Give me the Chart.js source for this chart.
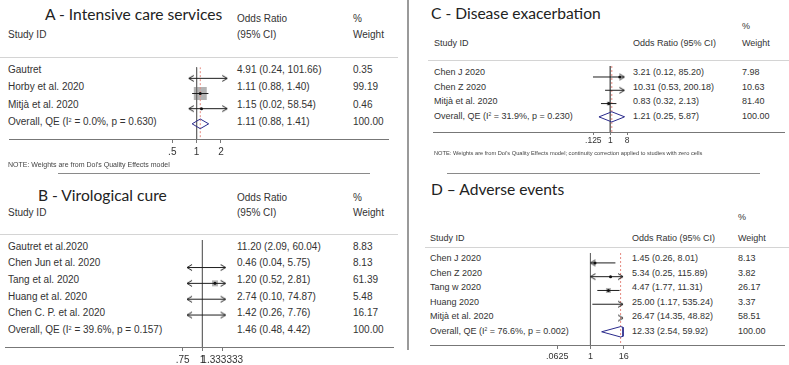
<!DOCTYPE html>
<html>
<head>
<meta charset="utf-8">
<script src="https://cdn.jsdelivr.net/npm/chart.js@4.4.1/dist/chart.umd.min.js"></script>
<style>
  body { margin: 0; background: #fff; width: 789px; height: 365px; overflow: hidden; position: relative;
         font-family: "Liberation Sans", Arial, sans-serif; color: #333; }
  .t { position: absolute; white-space: nowrap; line-height: 1; transform: translateY(-50%); }
  .ttl { font-family: Lato, sans-serif; color: #222; font-size: 15.6px; }
  .rule { position: absolute; height: 1px; }
  canvas { position: absolute; }
  sup { font-size: 55%; vertical-align: 0; position: relative; top: -0.55em; }
</style>
</head>
<body>

<div class="t ttl" style="left:45px;top:15px">A - Intensive care services</div>
<div class="t ttl" style="left:38px;top:196px">B - Virological cure</div>
<div class="t ttl" style="left:431px;top:14px">C - Disease exacerbation</div>
<div class="t ttl" style="left:431px;top:190px">D &ndash; Adverse events</div>

<script>
// A - Intensive care services
const studiesA = ['Gautret', 'Horby et al. 2020', 'Mitjà et al. 2020'];
const orA = [4.91, 1.11, 1.15];
const loA = [0.24, 0.88, 0.02];
const hiA = [101.66, 1.40, 58.54];
const weightA = [0.35, 99.19, 0.46];
const overallA = [1.11, 0.88, 1.41];
const i2A = 0.0, pA = 0.630;
const ticksA = [0.5, 1, 2];
const tickLabelsA = ['.5', '1', '2'];
const clipA = [0.8, 2.39];

// B - Virological cure
const studiesB = ['Gautret et al.2020', 'Chen Jun et al. 2020', 'Tang et al. 2020', 'Huang et al. 2020', 'Chen C. P. et al. 2020'];
const orB = [11.20, 0.46, 1.20, 2.74, 1.42];
const loB = [2.09, 0.04, 0.52, 0.10, 0.26];
const hiB = [60.04, 5.75, 2.81, 74.87, 7.76];
const weightB = [8.83, 8.13, 61.39, 5.48, 16.17];
const overallB = [1.46, 0.48, 4.42];
const i2B = 39.6, pB = 0.157;
const ticksB = [0.75, 1, 1.333333];
const tickLabelsB = ['.75', '1', '1.333333'];
const clipB = [0.8, 1.40];

// C - Disease exacerbation
const studiesC = ['Chen J 2020', 'Chen Z 2020', 'Mitjà et al. 2020'];
const orC = [3.21, 10.31, 0.83];
const loC = [0.12, 0.53, 0.32];
const hiC = [85.20, 200.18, 2.13];
const weightC = [7.98, 10.63, 81.40];
const overallC = [1.21, 0.25, 5.87];
const i2C = 31.9, pC = 0.230;
const ticksC = [0.125, 1, 8];
const tickLabelsC = ['.125', '1', '8'];
const clipC = [0.11, 5.66];

// D - Adverse events
const studiesD = ['Chen J 2020', 'Chen Z 2020', 'Tang w 2020', 'Huang 2020', 'Mitjà et al. 2020'];
const orD = [1.45, 5.34, 4.47, 25.00, 26.47];
const loD = [0.26, 0.25, 1.77, 1.17, 14.35];
const hiD = [8.01, 115.89, 11.31, 535.24, 48.82];
const weightD = [8.13, 3.82, 26.17, 3.37, 58.51];
const overallD = [12.33, 2.54, 59.92];
const i2D = 76.6, pD = 0.002;
const ticksD = [0.0625, 1, 16];
const tickLabelsD = ['.0625', '1', '16'];
const clipD = [1.0, 15.1];

const noteA = "NOTE: Weights are from Doi's Quality Effects model";
const noteC = "NOTE: Weights are from Doi's Quality Effects model; continuity correction applied to studies with zero cells";

function txt(x, y, s, size, color) {
  const d = document.createElement('div');
  d.className = 't';
  d.style.left = x + 'px';
  d.style.top = y + 'px';
  d.style.fontSize = size + 'px';
  if (color) d.style.color = color;
  d.innerHTML = s;
  document.body.appendChild(d);
}

function rule(x0, x1, y, color, h) {
  const d = document.createElement('div');
  d.className = 'rule';
  d.style.left = x0 + 'px';
  d.style.width = (x1 - x0) + 'px';
  d.style.top = y + 'px';
  d.style.height = (h || 1) + 'px';
  d.style.background = color;
  document.body.appendChild(d);
}

function arrowImg(dir) {
  const c = document.createElement('canvas');
  c.width = 12; c.height = 9;
  const g = c.getContext('2d');
  g.strokeStyle = '#1e1e1e';
  g.lineWidth = 1;
  const back = dir > 0 ? 1 : 11;
  g.beginPath();
  g.moveTo(back, 1.5); g.lineTo(6, 4.5); g.lineTo(back, 7.5);
  g.stroke();
  return c;
}
const arrowL = arrowImg(-1), arrowR = arrowImg(1);

// clip a polygon (log-x, y) to x >= / <= bound
function clipX(poly, bound, keepAbove) {
  const out = [];
  for (let i = 0; i < poly.length; i++) {
    const a = poly[i], b = poly[(i + 1) % poly.length];
    const ina = keepAbove ? a[0] >= bound : a[0] <= bound;
    const inb = keepAbove ? b[0] >= bound : b[0] <= bound;
    if (ina) out.push(a);
    if (ina !== inb) {
      const t = (bound - a[0]) / (b[0] - a[0]);
      out.push([bound, a[1] + t * (b[1] - a[1])]);
    }
  }
  return out;
}

const fmt = v => v.toFixed(2);

function forest(d, L) {
  const n = d.studies.length;
  const rowY = i => L.row1 + i * L.sp;

  // table text
  txt(L.colName, L.hdr2, 'Study ID', L.font);
  if (L.splitHeader) {
    txt(L.colEst, L.hdr1, 'Odds Ratio', L.font);
    txt(L.colEst, L.hdr2, '(95% CI)', L.font);
  } else {
    txt(L.colEst, L.hdr2, 'Odds Ratio (95% CI)', L.font);
  }
  txt(L.colW, L.hdr1, '%', L.font);
  txt(L.colW, L.hdr2, 'Weight', L.font);
  d.studies.forEach((s, i) => {
    txt(L.colName, rowY(i), s, L.font);
    txt(L.colEst, rowY(i), fmt(d.or[i]) + ' (' + fmt(d.lo[i]) + ', ' + fmt(d.hi[i]) + ')', L.font);
    txt(L.colW, rowY(i), fmt(d.weight[i]), L.font);
  });
  txt(L.colName, rowY(n), 'Overall, QE (I<sup>2</sup> = ' + d.i2.toFixed(1) + '%, p = ' + d.p.toFixed(3) + ')', L.font);
  txt(L.colEst, rowY(n), fmt(d.overall[0]) + ' (' + fmt(d.overall[1]) + ', ' + fmt(d.overall[2]) + ')', L.font);
  txt(L.colW, rowY(n), '100.00', L.font);
  rule(L.x0, L.x1, L.top - 1, '#d4d4d4');

  // plot
  const H = L.bottom - L.top;
  const cv = document.createElement('canvas');
  cv.width = L.x1 - L.x0;
  cv.height = H + L.axisH;
  cv.style.left = L.x0 + 'px';
  cv.style.top = L.top + 'px';
  document.body.appendChild(cv);

  const ymin = 1 - (L.row1 - L.top) / L.sp;
  const ymax = ymin + H / L.sp;
  const xmin = Math.exp(-(L.one - L.x0) / L.ppl);
  const xmax = Math.exp((L.x1 - L.one) / L.ppl);
  const inClip = v => v >= d.clip[0] && v <= d.clip[1];

  const datasets = [];
  datasets.push({ data: [{ x: 1, y: ymin }, { x: 1, y: ymax }], showLine: true,
    borderColor: '#6a6a6a', borderWidth: 1, pointRadius: 0, order: 5 });
  if (inClip(d.overall[0])) {
    datasets.push({ data: [{ x: d.overall[0], y: ymin }, { x: d.overall[0], y: ymax }], showLine: true,
      borderColor: '#e58a80', borderWidth: 1, borderDash: [2, 2], pointRadius: 0, order: 4 });
  }
  const boxes = [], boxR = [], dots = [];
  d.or.forEach((v, i) => {
    const y = i + 1, lo = d.lo[i], hi = d.hi[i];
    if (hi < d.clip[0] || lo > d.clip[1]) return;
    const cutL = lo < d.clip[0], cutR = hi > d.clip[1];
    datasets.push({
      data: [{ x: Math.max(lo, d.clip[0]), y }, { x: Math.min(hi, d.clip[1]), y }],
      showLine: true, borderColor: '#1e1e1e', borderWidth: 1,
      pointStyle: [cutL ? arrowL : 'circle', cutR ? arrowR : 'circle'],
      pointRadius: [cutL ? 3 : 0, cutR ? 3 : 0], order: 2
    });
    if (inClip(v)) {
      boxes.push({ x: v, y });
      boxR.push(Math.sqrt(d.weight[i]) * L.box);
      dots.push({ x: v, y });
    }
  });
  datasets.push({ data: boxes, pointStyle: 'rect', pointRadius: boxR, backgroundColor: '#b3b3b3',
    borderWidth: 0, order: 6 });
  datasets.push({ data: dots, pointStyle: 'circle', pointRadius: 1.5, backgroundColor: '#111',
    borderWidth: 0, order: 0 });

  if (inClip(d.overall[0])) {
    const yo = n + 1, h = L.dia / L.sp;
    let poly = [[Math.log(d.overall[1]), yo], [Math.log(d.overall[0]), yo - h],
                [Math.log(d.overall[2]), yo], [Math.log(d.overall[0]), yo + h]];
    poly = clipX(poly, Math.log(d.clip[0]), true);
    poly = clipX(poly, Math.log(d.clip[1]), false);
    poly.push(poly[0]);
    datasets.push({ data: poly.map(p => ({ x: Math.exp(p[0]), y: p[1] })), showLine: true,
      borderColor: '#2a2a8c', borderWidth: 1, pointRadius: 0, order: 1 });
  }

  new Chart(cv, {
    type: 'scatter',
    data: { datasets },
    options: {
      responsive: false,
      animation: false,
      layout: { padding: 0 },
      plugins: { legend: { display: false }, tooltip: { enabled: false } },
      scales: {
        x: {
          type: 'logarithmic', position: 'bottom', bounds: 'data', min: xmin, max: xmax,
          afterBuildTicks: s => { s.ticks = d.ticks.map(v => ({ value: v })); },
          afterFit: s => { s.height = L.axisH; },
          ticks: {
            autoSkip: false, maxRotation: 0, minRotation: 0, padding: L.tickPad, color: '#333',
            font: { family: '"Liberation Sans", Arial, sans-serif', size: L.tickFont },
            callback: (v, i) => d.tickLabels[i]
          },
          grid: { drawOnChartArea: false, drawTicks: true, tickLength: L.tickLen, color: '#777' },
          border: { display: true, color: '#777', width: 1 }
        },
        y: { type: 'linear', display: false, reverse: true, bounds: 'data', min: ymin, max: ymax }
      }
    }
  });
}

forest(
  { studies: studiesA, or: orA, lo: loA, hi: hiA, weight: weightA, overall: overallA, i2: i2A, p: pA,
    ticks: ticksA, tickLabels: tickLabelsA, clip: clipA },
  { x0: 0, x1: 398, one: 196.5, ppl: 36.8, top: 57.5, bottom: 139, row1: 70.2, sp: 17.2, axisH: 22,
    font: 10, tickFont: 10, tickPad: 3, tickLen: 4, colName: 8, colEst: 237, colW: 353,
    hdr1: 19, hdr2: 35, splitHeader: true, box: 0.92, dia: 5.5 });

forest(
  { studies: studiesB, or: orB, lo: loB, hi: hiB, weight: weightB, overall: overallB, i2: i2B, p: pB,
    ticks: ticksB, tickLabels: tickLabelsB, clip: clipB },
  { x0: 0, x1: 398, one: 202.5, ppl: 70.6, top: 234.5, bottom: 347, row1: 246.8, sp: 16.65, axisH: 22,
    font: 10, tickFont: 10, tickPad: 3, tickLen: 4, colName: 8, colEst: 237, colW: 353,
    hdr1: 198, hdr2: 213, splitHeader: true, box: 0.54, dia: 5.5 });

forest(
  { studies: studiesC, or: orC, lo: loC, hi: hiC, weight: weightC, overall: overallC, i2: i2C, p: pC,
    ticks: ticksC, tickLabels: tickLabelsC, clip: clipC },
  { x0: 428, x1: 789, one: 610.3, ppl: 8.37, top: 60.5, bottom: 132, row1: 72.4, sp: 14.4, axisH: 18,
    font: 9, tickFont: 8.5, tickPad: 0.5, tickLen: 3, colName: 434, colEst: 633, colW: 742,
    hdr1: 26, hdr2: 43, splitHeader: false, box: 0.31, dia: 5.5 });

forest(
  { studies: studiesD, or: orD, lo: loD, hi: hiD, weight: weightD, overall: overallD, i2: i2D, p: pD,
    ticks: ticksD, tickLabels: tickLabelsD, clip: clipD },
  { x0: 425, x1: 789, one: 590, ppl: 12.33, top: 247.5, bottom: 345, row1: 258, sp: 14.6, axisH: 20,
    font: 9, tickFont: 9, tickPad: 2.5, tickLen: 4, colName: 430, colEst: 632, colW: 738,
    hdr1: 217, hdr2: 238, splitHeader: false, box: 0.69, dia: 5.5 });

// notes and separators
txt(8, 164, noteA, 7, '#444');
txt(434, 153.5, noteC, 5.7, '#444');
rule(58, 370, 172.5, '#8a8a8a');
rule(447, 760, 172.5, '#8a8a8a');
rule(407, 409, 0, '#9a9a9a', 350);
</script>
</body>
</html>
